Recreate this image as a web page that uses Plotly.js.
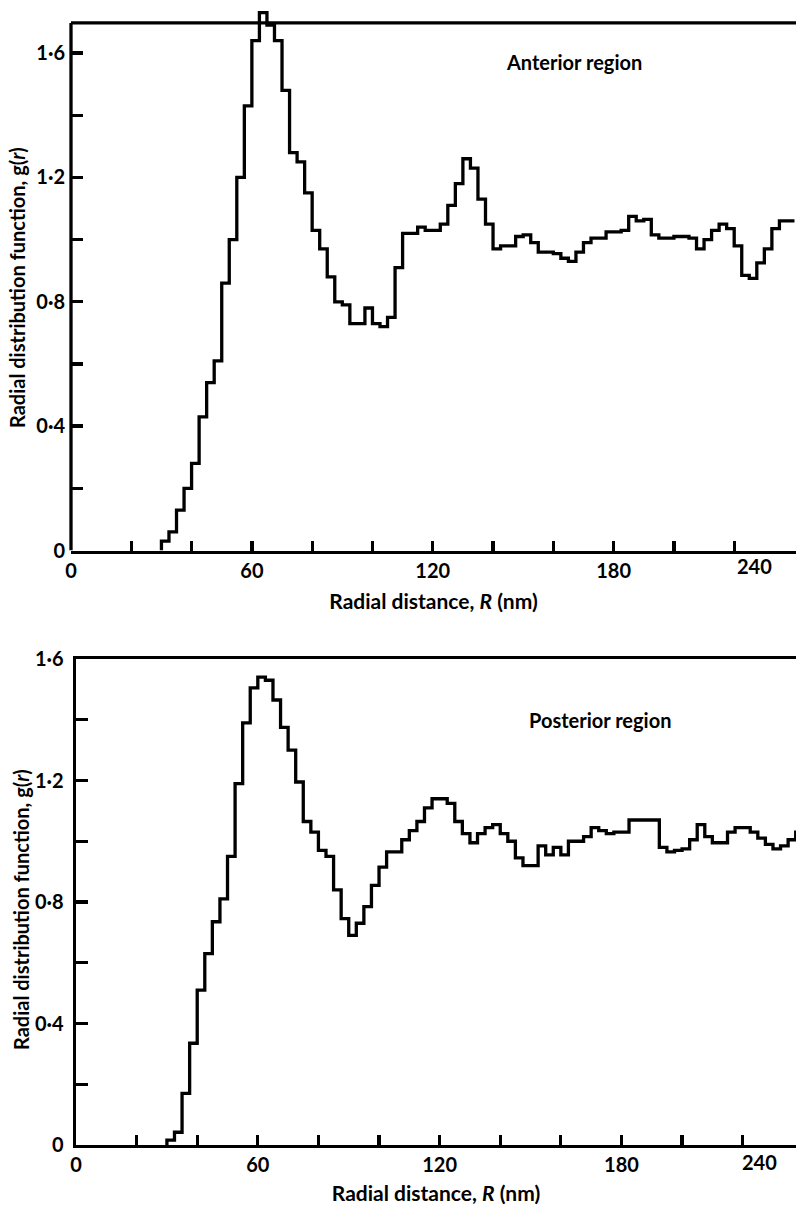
<!DOCTYPE html>
<html>
<head>
<meta charset="utf-8">
<script src="https://cdn.plot.ly/plotly-3.0.1.min.js"></script>
<style>
html,body{margin:0;padding:0;background:#fff;}
#chart{width:796px;height:1205px;}
</style>
</head>
<body>
<div id="chart"></div>
<script>
// Radial distance bins (nm): lower edge of each 2.5 nm bin
const binStart = [30,32.5,35,37.5,40,42.5,45,47.5,50,52.5,55,57.5,60,62.5,65,67.5,70,72.5,75,77.5,
  80,82.5,85,87.5,90,92.5,95,97.5,100,102.5,105,107.5,110,112.5,115,117.5,120,122.5,125,127.5,
  130,132.5,135,137.5,140,142.5,145,147.5,150,152.5,155,157.5,160,162.5,165,167.5,170,172.5,175,177.5,
  180,182.5,185,187.5,190,192.5,195,197.5,200,202.5,205,207.5,210,212.5,215,217.5,220,222.5,225,227.5,
  230,232.5,235,237.5];
const binWidth = 2.5;

// g(r), anterior region
const anteriorG = [0.03,0.06,0.13,0.20,0.28,0.43,0.54,0.61,0.86,1.00,
  1.20,1.43,1.64,1.73,1.69,1.64,1.48,1.28,1.25,1.15,
  1.03,0.97,0.88,0.80,0.79,0.73,0.73,0.78,0.73,0.72,
  0.75,0.91,1.02,1.02,1.04,1.03,1.03,1.05,1.11,1.18,
  1.26,1.23,1.13,1.05,0.97,0.98,0.98,1.01,1.015,0.99,
  0.96,0.96,0.955,0.94,0.93,0.96,0.99,1.005,1.005,1.025,
  1.025,1.03,1.075,1.06,1.065,1.015,1.005,1.005,1.01,1.01,
  1.005,0.97,1.00,1.03,1.05,1.035,0.98,0.885,0.875,0.925,
  0.97,1.035,1.06,1.06];

// g(r), posterior region
const posteriorG = [0.016,0.042,0.17,0.335,0.51,0.63,0.735,0.81,0.95,1.19,
  1.39,1.505,1.54,1.53,1.465,1.375,1.30,1.195,1.065,1.03,
  0.97,0.95,0.84,0.745,0.69,0.73,0.785,0.855,0.915,0.965,
  0.965,1.005,1.035,1.065,1.11,1.14,1.14,1.125,1.065,1.025,
  0.995,1.025,1.045,1.055,1.025,1.00,0.945,0.92,0.92,0.985,
  0.955,0.98,0.955,1.00,1.00,1.015,1.045,1.035,1.025,1.03,
  1.03,1.07,1.07,1.07,1.07,0.98,0.965,0.97,0.975,1.005,
  1.055,1.015,0.995,0.995,1.03,1.045,1.045,1.03,1.01,0.99,
  0.975,0.985,1.005,1.03];

const xTickVals = [0,20,40,60,80,100,120,140,160,180,200,220];
const xTickText = ['0','','','60','','','120','','','180','',''];
const yTickVals = [0,0.2,0.4,0.6,0.8,1.0,1.2,1.4,1.6];
const yTickText = ['0','','0·4','','0·8','','1·2','','1·6'];
const lastTickText = '240';
const xTitle = 'Radial distance, <i>R</i> (nm)';
const yTitle = '<b>Radial distribution function, g(<i>r</i>)</b>';
const panelLabels = ['Anterior region', 'Posterior region'];
const topFrameG = 1.697;

function stepTrace(vals, xa, ya) {
  const xs = [binStart[0]].concat(binStart, [binStart[binStart.length - 1] + binWidth]);
  const ys = [0].concat(vals, [vals[vals.length - 1]]);
  return {
    type: 'scatter', mode: 'lines', x: xs, y: ys, xaxis: xa, yaxis: ya,
    line: {shape: 'hv', color: '#000', width: 3.3}, hoverinfo: 'skip'
  };
}

const W = 796, H = 1205;
const FONT = 'Lato, "Open Sans", "DejaVu Sans", sans-serif';
const topXd = [71 / W, 1];
const topYd = [654.5 / H, 1200 / H];
const botXd = [76 / W, 1];
const botYd = [60 / H, 546 / H];

function xAxis(domain, range, anchor) {
  return {
    domain: domain, range: range, anchor: anchor,
    tickmode: 'array', tickvals: xTickVals, ticktext: xTickText,
    ticks: 'inside', ticklen: 10, tickwidth: 3.3, tickcolor: '#000',
    showline: true, linewidth: 3.3, linecolor: '#000',
    showgrid: false, zeroline: false, fixedrange: true,
    tickfont: {family: FONT, size: 20, color: '#000', weight: 700},
    title: {text: xTitle, font: {family: FONT, size: 21, color: '#000', weight: 700}, standoff: 14}
  };
}
function yAxis(domain, range, anchor, showline) {
  return {
    domain: domain, range: range, anchor: anchor,
    tickmode: 'array', tickvals: yTickVals, ticktext: yTickText,
    ticks: 'inside', ticklen: 12, tickwidth: 3.3, tickcolor: '#000',
    showline: showline, linewidth: 3.3, linecolor: '#000', mirror: false,
    showgrid: false, zeroline: false, fixedrange: true, ticklabelstandoff: 5,
    tickfont: {family: FONT, size: 20, color: '#000', weight: 700}
  };
}

const botX = xAxis(botXd, [0, 237.6], 'y2');
botX.mirror = true;

const layout = {
  width: W, height: H,
  margin: {l: 0, r: 0, t: 0, b: 0},
  paper_bgcolor: '#fff', plot_bgcolor: 'rgba(0,0,0,0)',
  showlegend: false,
  font: {family: FONT, size: 20, color: '#000', weight: 700},
  xaxis: xAxis(topXd, [0, 240.5], 'y'),
  yaxis: yAxis(topYd, [0, 1.7546], 'x', false),
  xaxis2: botX,
  yaxis2: yAxis(botYd, [0, 1.6], 'x2', true),
  shapes: [
    {type: 'line', xref: 'paper', yref: 'y', x0: topXd[0], x1: topXd[0], y0: 0, y1: topFrameG,
     line: {color: '#000', width: 3.3}, layer: 'above'},
    {type: 'line', xref: 'paper', yref: 'y', x0: topXd[0], x1: 1, y0: topFrameG, y1: topFrameG,
     line: {color: '#000', width: 3.3}, layer: 'above'}
  ],
  annotations: [
    {text: yTitle, textangle: -90, xref: 'paper', yref: 'paper', x: 17 / W, y: (H - 288) / H,
     xanchor: 'center', yanchor: 'middle', showarrow: false,
     font: {family: FONT, size: 20, color: '#000', weight: 700}},
    {text: yTitle, textangle: -90, xref: 'paper', yref: 'paper', x: 21 / W, y: (H - 910) / H,
     xanchor: 'center', yanchor: 'middle', showarrow: false,
     font: {family: FONT, size: 20, color: '#000', weight: 700}},
    {text: panelLabels[0], xref: 'paper', yref: 'paper', x: 574 / W, y: (H - 62) / H,
     xanchor: 'center', yanchor: 'middle', showarrow: false,
     font: {family: FONT, size: 20, color: '#000', weight: 700}},
    {text: panelLabels[1], xref: 'paper', yref: 'paper', x: 600 / W, y: (H - 720) / H,
     xanchor: 'center', yanchor: 'middle', showarrow: false,
     font: {family: FONT, size: 20, color: '#000', weight: 700}},
    {text: lastTickText, xref: 'paper', yref: 'paper', x: 754 / W, y: (H - 566) / H,
     xanchor: 'center', yanchor: 'middle', showarrow: false,
     font: {family: FONT, size: 20, color: '#000', weight: 700}},
    {text: lastTickText, xref: 'paper', yref: 'paper', x: 759 / W, y: (H - 1162) / H,
     xanchor: 'center', yanchor: 'middle', showarrow: false,
     font: {family: FONT, size: 20, color: '#000', weight: 700}}
  ]
};

const data = [stepTrace(anteriorG, 'x', 'y'), stepTrace(posteriorG, 'x2', 'y2')];
Plotly.newPlot('chart', data, layout, {staticPlot: true, displayModeBar: false});
</script>
</body>
</html>
